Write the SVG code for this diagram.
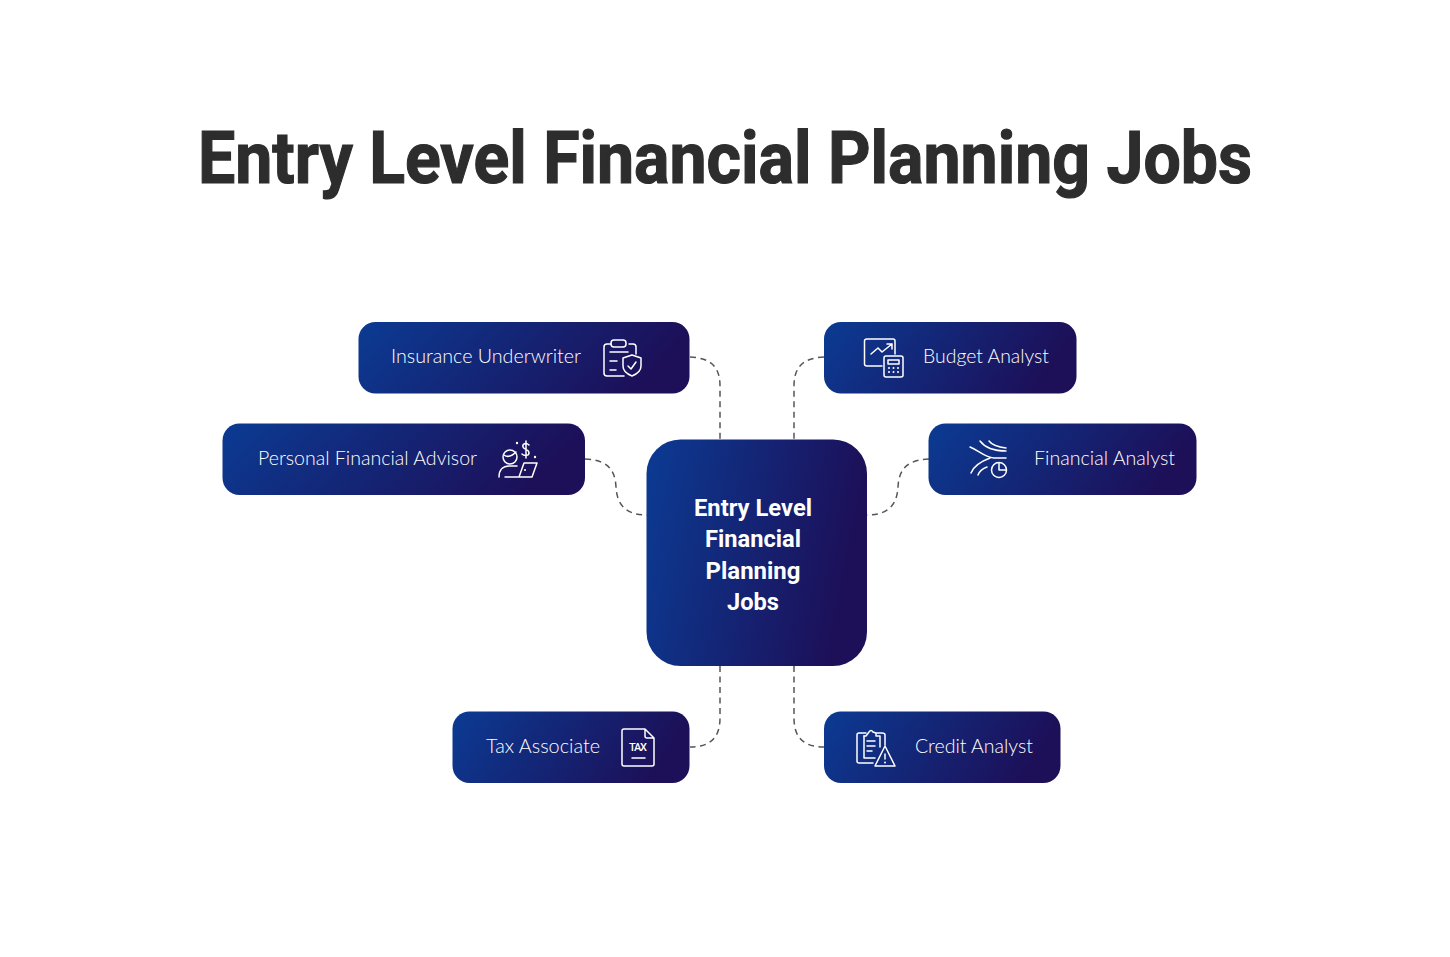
<svg xmlns="http://www.w3.org/2000/svg" width="1450" height="957" viewBox="0 0 1450 957">
<style>
.t{font-family:"Roboto","Liberation Sans",sans-serif;font-weight:700;fill:#2d2d2d;stroke:#2d2d2d;stroke-width:1.2}
.c{font-family:"Roboto","Liberation Sans",sans-serif;font-weight:700;fill:#fff;font-size:24.500px;text-anchor:middle}
.l{font-family:"Lato","Noto Sans",sans-serif;font-weight:300;font-size:20px;fill:#fff}
.i{fill:none;stroke:#fff;stroke-width:1.500;stroke-linecap:round;stroke-linejoin:round}
.d{fill:#fff}
.k{fill:none;stroke:#555;stroke-width:1.500;stroke-dasharray:6 4.500}
</style>
<defs>
<linearGradient id="g" x1="0" y1="0" x2="1" y2="0.2"><stop offset="0" stop-color="#0b3b93"/><stop offset="1" stop-color="#1d0f58"/></linearGradient>
</defs>
<rect width="1450" height="957" fill="#fff"/>
<text class="t" x="198" y="183" font-size="72.500" textLength="1054" lengthAdjust="spacingAndGlyphs">Entry Level Financial Planning Jobs</text>
<g id="connectors">
<path class="k" d="M690 357C710 358 720 366 720 386V439"/>
<path class="k" d="M585 459C606 460 615 468 616 487C617 506 627 515 647 515"/>
<path class="k" d="M824 357C804 358 794 366 794 386V439"/>
<path class="k" d="M929 459C908 460 899 468 898 487C897 506 887 515 867 515"/>
<path class="k" d="M720 666V718C720 738 710 747 690 747"/>
<path class="k" d="M794 666V718C794 738 804 747 824 747"/>
</g>
<g id="center"><rect x="646.500" y="439.500" width="220.500" height="226.500" rx="34" fill="url(#g)"/>
<text class="c" x="753" y="516" textLength="118" lengthAdjust="spacingAndGlyphs">Entry Level</text>
<text class="c" x="753" y="547" textLength="96" lengthAdjust="spacingAndGlyphs">Financial</text>
<text class="c" x="753" y="578.500" textLength="95" lengthAdjust="spacingAndGlyphs">Planning</text>
<text class="c" x="753" y="609.500" textLength="52" lengthAdjust="spacingAndGlyphs">Jobs</text></g>
<g id="insurance"><rect x="358.500" y="322" width="331" height="71.500" rx="17" fill="url(#g)"/>
<text class="l" x="391" y="362.500" textLength="190" lengthAdjust="spacingAndGlyphs">Insurance Underwriter</text>
<g class="i"><path d="M611 344H607Q604 344 604 347V373Q604 376 607 376H624"/><path d="M629 344H633Q636 344 636 347V354"/><rect x="611" y="340" width="15" height="7" rx="3"/><path d="M610 352H628M610 361H617M610 370H616"/><path d="M632 355L641 358V366C641 371 637 374 632 376C627 374 623 371 623 366V358Z"/><path d="M628 366L631 369L636 362"/></g></g>
<g id="advisor"><rect x="222.500" y="423.500" width="362.500" height="71.500" rx="17" fill="url(#g)"/>
<text class="l" x="258" y="464.500" textLength="219" lengthAdjust="spacingAndGlyphs">Personal Financial Advisor</text>
<g class="i"><circle cx="510" cy="457" r="7"/><path d="M504 455C508 458 513 455 516 452"/><path d="M499 477C499 470 503 466 509 466H517"/><path d="M520 477H532L537 463H524L519 477H505"/><path d="M529 445C526 442 522 444 523 447C524 450 529 449 529 453C529 456 524 456 522 454M526 441V458"/></g><circle class="d" cx="517" cy="443" r="1.200"/><circle class="d" cx="535" cy="457" r="1.200"/><circle class="d" cx="525" cy="470" r="1"/></g>
<g id="budget"><rect x="824" y="322" width="252.500" height="71.500" rx="17" fill="url(#g)"/>
<text class="l" x="923" y="362.500" textLength="126" lengthAdjust="spacingAndGlyphs">Budget Analyst</text>
<g class="i"><path d="M882 366H867Q864.500 366 864.500 364V341Q864.500 339 867 339H893Q895 339 895 341V354"/><path d="M871 354L878 348L882 352L892 344M887 344H892V349"/><rect x="884" y="356" width="19" height="21" rx="2"/><rect x="888" y="360" width="11" height="4"/></g><g class="d"><circle cx="889" cy="368" r="1"/><circle cx="893.500" cy="368" r="1"/><circle cx="898" cy="368" r="1"/><circle cx="889" cy="372" r="1"/><circle cx="893.500" cy="372" r="1"/><circle cx="898" cy="372" r="1"/></g></g>
<g id="analyst"><rect x="928.500" y="423.500" width="268" height="71.500" rx="17" fill="url(#g)"/>
<text class="l" x="1034" y="464.500" textLength="141" lengthAdjust="spacingAndGlyphs">Financial Analyst</text>
<g class="i"><path d="M970 447C978 450 984 457 994 458H1006M980 441C986 449 995 451 1006 451M989 441C992 445 998 447 1006 448M971 473C974 465 982 461 990 458M978 475C980 470 984 468 987 467"/><circle cx="999" cy="470" r="7.500"/><path d="M999 463V470H1006"/></g></g>
<g id="tax"><rect x="452.500" y="711.500" width="237" height="71.500" rx="17" fill="url(#g)"/>
<text class="l" x="486" y="752.500" textLength="114" lengthAdjust="spacingAndGlyphs">Tax Associate</text>
<g class="i"><path d="M645 729H624Q622 729 622 731V764Q622 766 624 766H652Q654 766 654 764V738ZM645 729V736Q645 738 647 738H654"/><path d="M632 758H645"/></g>
<text x="638" y="751" font-family="Roboto,sans-serif" font-size="11" font-weight="500" fill="#fff" text-anchor="middle" textLength="18" lengthAdjust="spacing">TAX</text></g>
<g id="credit"><rect x="824" y="711.500" width="236.500" height="71.500" rx="17" fill="url(#g)"/>
<text class="l" x="915" y="752.500" textLength="118" lengthAdjust="spacingAndGlyphs">Credit Analyst</text>
<g class="i"><path d="M866 733H859Q857 733 857 735V761Q857 763 859 763H873"/><path d="M864 736V758H875"/><path d="M864 736H866L869 732Q871 729 873 732L876 733H882Q885 733 885 735V745M876 733V736H880V747"/><path d="M867 741H875M867 746H875M867 751H872"/><path d="M885 746L895 766H875Z"/><path d="M885 754V759"/></g><circle class="d" cx="885" cy="762.500" r="1"/></g>
</svg>
